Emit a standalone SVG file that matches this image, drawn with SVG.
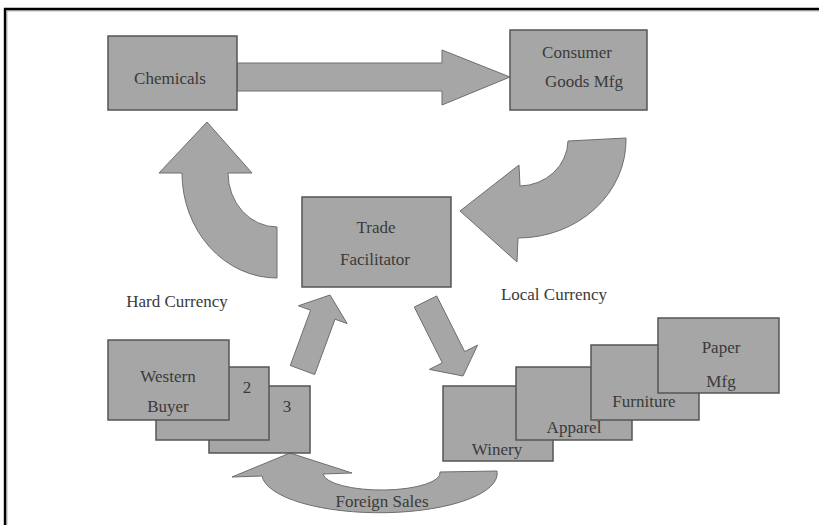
<svg xmlns="http://www.w3.org/2000/svg" width="819" height="525" viewBox="0 0 819 525">
  <style>
    .box { fill: #a6a6a6; stroke: #555; stroke-width: 1.5; }
    .arrow { fill: #a6a6a6; stroke: #6e6e6e; stroke-width: 1; stroke-linejoin: miter; }
    .lbl { font-family: "Liberation Serif", "Times New Roman", serif; font-size: 17px; fill: #3a3a3a; text-anchor: middle; }
  </style>

  <rect x="0" y="0" width="819" height="525" fill="#fff"/>

  <!-- frame: left and top rule -->
  <g id="frame">
    <path d="M5,525 V9 H819" fill="none" stroke="#000" stroke-width="2.4"/>
    <path d="M6.8,525 V10.8 H819" fill="none" stroke="#8a8a8a" stroke-width="1"/>
  </g>

  <!-- connectors -->
  <g id="connectors">
    <!-- Chemicals to Consumer Goods Mfg -->
    <path class="arrow" d="M237,63 L442,63 L442,50 L510,77 L442,105 L442,91 L237,91 Z"/>
    <!-- Consumer Goods Mfg back to Trade Facilitator -->
    <path class="arrow" d="M460,211 L519,165 L520,186 A49,46 0 0 0 568,141 L626,138 A108,98 0 0 1 518,238 L517,262 Z"/>
    <!-- Trade Facilitator back to Chemicals -->
    <path class="arrow" d="M207,122 L252,173 L228,173 A49,54 0 0 0 277,227 L277,278 A95,105 0 0 1 182,173 L159,173 Z"/>
    <!-- Western Buyer up to Trade Facilitator -->
    <path class="arrow" d="M290.3,365.5 L310.6,310.2 L298.4,305.8 L330,295 L347.2,323.6 L335,319.2 L314.7,374.5 Z"/>
    <!-- Trade Facilitator down to manufacturers -->
    <path class="arrow" d="M414.3,307.1 L436.7,295.9 L464.7,351.6 L477.6,345.1 L463,376 L429.4,369.4 L442.3,362.8 Z"/>
    <!-- manufacturers round to Western Buyer -->
    <path class="arrow" d="M290,453 L352,473 L323,474 A58.5,17 0 0 0 440,472 L497,471 A117,39 0 0 1 262,476 L232,477 Z"/>
  </g>

  <g id="chemicals">
    <rect class="box" x="108" y="36" width="129" height="74"/>
    <text class="lbl" x="170" y="84">Chemicals</text>
  </g>

  <g id="consumer-goods">
    <rect class="box" x="510" y="30" width="137" height="80"/>
    <text class="lbl" x="577" y="58">Consumer</text>
    <text class="lbl" x="584" y="87">Goods Mfg</text>
  </g>

  <g id="trade-facilitator">
    <rect class="box" x="302" y="197" width="149" height="90"/>
    <text class="lbl" x="376" y="233">Trade</text>
    <text class="lbl" x="375" y="265">Facilitator</text>
  </g>

  <g id="hard-currency">
    <text class="lbl" x="177" y="307">Hard Currency</text>
  </g>

  <g id="local-currency">
    <text class="lbl" x="554" y="300">Local Currency</text>
  </g>

  <g id="buyers">
    <rect class="box" x="209" y="386" width="101" height="67"/>
    <text class="lbl" x="287" y="412">3</text>
    <rect class="box" x="156" y="367" width="113" height="73"/>
    <text class="lbl" x="247" y="393">2</text>
    <rect class="box" x="108" y="340" width="121" height="80"/>
    <text class="lbl" x="168" y="382">Western</text>
    <text class="lbl" x="168" y="412">Buyer</text>
  </g>

  <g id="manufacturers">
    <rect class="box" x="443" y="386" width="110" height="75"/>
    <text class="lbl" x="497" y="455">Winery</text>
    <rect class="box" x="516" y="367" width="116" height="73"/>
    <text class="lbl" x="574" y="433">Apparel</text>
    <rect class="box" x="591" y="345" width="108" height="75"/>
    <text class="lbl" x="644" y="407">Furniture</text>
    <rect class="box" x="658" y="318" width="121" height="75"/>
    <text class="lbl" x="721" y="353">Paper</text>
    <text class="lbl" x="721" y="387">Mfg</text>
  </g>

  <g id="foreign-sales">
    <text class="lbl" x="382" y="507">Foreign Sales</text>
  </g>
</svg>
